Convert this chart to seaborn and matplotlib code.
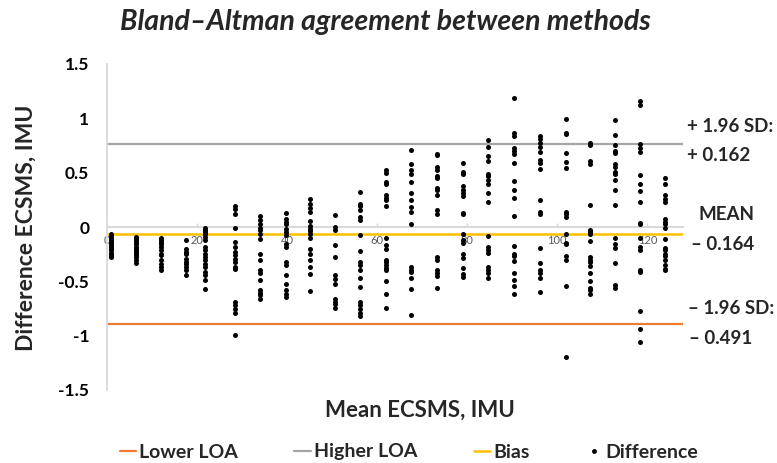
import numpy as np
import pandas as pd
import seaborn as sns
import matplotlib.pyplot as plt
from matplotlib.lines import Line2D

# ---------------- data ----------------
cluster_mean = [0.8, 6.4, 11.9, 17.5, 21.7, 28.4, 33.9, 39.7, 45.0, 50.6, 56.2, 61.9,
                67.5, 73.3, 79.0, 84.6, 90.4, 96.2, 101.9, 107.3, 112.9, 118.4, 124.0]

d01 = [-0.065, -0.08, -0.10, -0.115, -0.13, -0.15, -0.165, -0.18, -0.20, -0.215, -0.235, -0.25, -0.27, -0.28]
d02 = [-0.09, -0.11, -0.125, -0.145, -0.16, -0.18, -0.20, -0.22, -0.235, -0.26, -0.28, -0.30, -0.33]
d03 = [-0.098, -0.116, -0.138, -0.159, -0.184, -0.214, -0.245, -0.26, -0.306, -0.343, -0.368, -0.398]
d04 = [-0.122, -0.199, -0.23, -0.251, -0.291, -0.322, -0.343, -0.368, -0.398, -0.444]
d05 = [-0.006, -0.024, -0.046, -0.067, -0.092, -0.116, -0.184, -0.214, -0.245, -0.276, -0.306,
       -0.337, -0.368, -0.414, -0.444, -0.49, -0.567]
d06 = [0.19, 0.17, 0.117, -0.006, -0.138, -0.184, -0.23, -0.26, -0.29, -0.322, -0.368, -0.39,
       -0.69, -0.72, -0.75, -0.79, -0.99]
d07 = [0.098, 0.068, 0.031, -0.006, -0.03, -0.061, -0.107, -0.245, -0.306, -0.398, -0.423,
       -0.49, -0.582, -0.607, -0.628, -0.659]
d08 = [0.132, 0.071, 0.046, 0.025, -0.015, -0.046, -0.076, -0.153, -0.184, -0.322, -0.352,
       -0.444, -0.521, -0.582, -0.613, -0.644]
d09 = [0.261, 0.215, 0.178, 0.138, 0.055, 0.006, -0.015, -0.037, -0.067, -0.098, -0.199,
       -0.251, -0.306, -0.368, -0.429, -0.589]
d10 = [0.108, 0.0, -0.024, -0.168, -0.276, -0.444, -0.475, -0.521, -0.659, -0.69, -0.711, -0.742]
d11 = [0.322, 0.215, 0.19, 0.16, 0.092, 0.062, -0.07, -0.221, -0.322, -0.352, -0.392, -0.466,
       -0.552, -0.69, -0.72, -0.751, -0.791, -0.822]
d12 = [0.522, 0.497, 0.414, 0.399, 0.292, 0.27, 0.252, 0.19, -0.098, -0.168, -0.199, -0.30,
       -0.322, -0.352, -0.374, -0.398, -0.497, -0.613, -0.742]
d13 = [0.706, 0.577, 0.528, 0.485, 0.414, 0.313, 0.246, 0.184, 0.138, 0.031, -0.368, -0.392,
       -0.414, -0.466, -0.567, -0.812]
d14 = [0.675, 0.66, 0.552, 0.522, 0.466, 0.454, 0.362, 0.338, 0.292, 0.154, 0.123, -0.276,
       -0.306, -0.398, -0.423, -0.454, -0.558]
d15 = [0.589, 0.506, 0.485, 0.374, 0.338, 0.313, 0.282, 0.129, 0.117, -0.061, -0.122, -0.147,
       -0.245, -0.285, -0.374, -0.429, -0.46]
d16 = [0.804, 0.736, 0.653, 0.604, 0.491, 0.466, 0.43, 0.399, 0.313, 0.23, -0.086, -0.184,
       -0.208, -0.239, -0.368, -0.398, -0.423, -0.466]
d17 = [1.19, 0.865, 0.837, 0.727, 0.696, 0.669, 0.592, 0.423, 0.344, 0.27, 0.098, -0.178,
       -0.245, -0.27, -0.313, -0.423, -0.484, -0.546, -0.619]
d18 = [0.834, 0.813, 0.773, 0.736, 0.69, 0.62, 0.589, 0.531, 0.246, 0.138, 0.117, -0.19,
       -0.331, -0.392, -0.423, -0.466, -0.598]
d19 = [0.997, 0.865, 0.853, 0.684, 0.598, 0.543, 0.138, 0.117, 0.092, -0.067, -0.147, -0.159,
       -0.27, -0.30, -0.546, -1.196]
d20 = [0.773, 0.752, 0.607, 0.577, 0.2, -0.024, -0.046, -0.067, -0.129, -0.276, -0.30, -0.322,
       -0.362, -0.423, -0.497, -0.558, -0.583, -0.619]
d21 = [0.988, 0.85, 0.752, 0.699, 0.681, 0.577, 0.552, 0.506, 0.491, 0.436, 0.344, 0.206,
       -0.098, -0.159, -0.19, -0.331, -0.536, -0.558]
d22 = [1.159, 1.12, 0.761, 0.73, 0.69, 0.476, 0.399, 0.331, 0.23, 0.037, 0.025, -0.098, -0.184,
       -0.214, -0.398, -0.414, -0.773, -0.935, -1.058]
d23 = [0.454, 0.399, 0.292, 0.261, 0.23, 0.077, 0.046, 0.025, -0.006, -0.107, -0.19, -0.214,
       -0.245, -0.27, -0.306, -0.352, -0.383, -0.398]
cluster_diffs = [d01, d02, d03, d04, d05, d06, d07, d08, d09, d10, d11, d12,
                 d13, d14, d15, d16, d17, d18, d19, d20, d21, d22, d23]

higher_loa = 0.761
bias = -0.067
lower_loa = -0.895

x_ticks = [0, 20, 40, 60, 80, 100, 120]
y_ticks = [-1.5, -1, -0.5, 0, 0.5, 1, 1.5]
y_tick_labels = ["-1.5", "-1", "-0.5", "0", "0.5", "1", "1.5"]

title = "Bland\u2013Altman agreement between methods"
x_label = "Mean ECSMS, IMU"
y_label = "Difference ECSMS, IMU"
legend_labels = ["Lower LOA", "Higher LOA", "Bias", "Difference"]
right_notes = ["+ 1.96 SD:", "+ 0.162", "MEAN", "\u2013 0.164", "\u2013 1.96 SD:", "\u2013 0.491"]

# ---------------- build table ----------------
rows = []
for mx, ds in zip(cluster_mean, cluster_diffs):
    for d in ds:
        rows.append((mx, d))
df = pd.DataFrame(rows, columns=["mean", "diff"])

# ---------------- style ----------------
sns.set_theme(style="white")
plt.rcParams["font.family"] = ["Lato", "DejaVu Sans"]

W, H = 777, 463
fig = plt.figure(figsize=(W / 100, H / 100), dpi=100)
ax_left, ax_right = 107.3 / W, 683.3 / W
ax_top, ax_bot = 1 - 64 / H, 1 - 390 / H
ax = fig.add_axes([ax_left, ax_bot, ax_right - ax_left, ax_top - ax_bot])

ORANGE = "#ED7D31"
GRAY = "#A5A5A5"
YELLOW = "#FFC000"
AXGRAY = "#D9D9D9"

ax.axhline(higher_loa, color=GRAY, lw=1.6, zorder=2)
ax.axhline(lower_loa, color=ORANGE, lw=1.6, zorder=2)
ax.axhline(bias, color=YELLOW, lw=1.8, zorder=2)

sns.scatterplot(data=df, x="mean", y="diff", color="black", s=13, linewidth=0,
                ax=ax, legend=False, zorder=3)

ax.set_xlim(0, 128)
ax.set_ylim(-1.5, 1.5)

for s in ["top", "right"]:
    ax.spines[s].set_visible(False)
ax.spines["left"].set_color(AXGRAY)
ax.spines["left"].set_linewidth(1.3)
ax.spines["bottom"].set_position(("data", 0))
ax.spines["bottom"].set_color(AXGRAY)
ax.spines["bottom"].set_linewidth(1.5)
ax.spines["bottom"].set_zorder(1)

ax.set_xticks(x_ticks)
ax.set_xticklabels([str(t) for t in x_ticks])
ax.tick_params(axis="x", direction="in", length=3, width=1, color=AXGRAY,
               labelsize=8, labelcolor="#595959", pad=6, bottom=True)
ax.set_yticks(y_ticks)
ax.set_yticklabels(y_tick_labels)
ax.tick_params(axis="y", length=0, labelsize=12.5, labelcolor="black", pad=13)
for lab in ax.get_yticklabels():
    lab.set_fontweight("bold")

ax.set_xlabel("")
ax.set_ylabel("")

fig.text(385 / W, 1 - 22 / H, title, ha="center", va="center", fontsize=20.5,
         fontweight="bold", fontstyle="italic")
fig.text(26 / W, 1 - 228 / H, y_label, ha="center", va="center", rotation=90,
         fontsize=16.5, fontweight="bold")
fig.text(420 / W, 1 - 410 / H, x_label, ha="center", va="center",
         fontsize=16, fontweight="bold")

note_pos = [(687, 127), (687, 155), (699, 215), (691, 244), (688, 309), (689, 338)]
for txt, (px, py) in zip(right_notes, note_pos):
    fig.text(px / W, 1 - py / H, txt, ha="left", va="center", fontsize=13.5,
             fontweight="bold", family=["Lato", "DejaVu Sans"])

handles = [
    Line2D([], [], color=ORANGE, lw=1.6),
    Line2D([], [], color=GRAY, lw=1.6),
    Line2D([], [], color=YELLOW, lw=1.8),
    Line2D([], [], color="black", marker="o", ls="", markersize=2.5),
]
fig.legend(handles, legend_labels, loc="center", bbox_to_anchor=(409 / W, 1 - 452 / H),
           ncol=4, frameon=False, handlelength=0.85, handletextpad=0.15,
           columnspacing=2.9, prop={"weight": "bold", "size": 14})

fig.savefig("out.png", dpi=100)
